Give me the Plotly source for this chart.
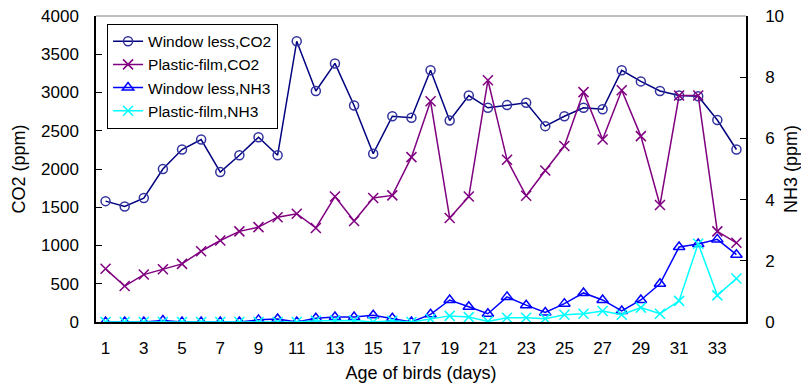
import plotly.graph_objects as go

days = list(range(1, 35))
x_tick_vals = list(range(1, 35, 2))
x_tick_text = [str(v) for v in x_tick_vals]
x_mark_vals = [3.5 + 3 * i for i in range(11)]

windowless_co2 = [1580, 1510, 1620, 2000, 2255, 2385, 1960, 2180, 2415, 2180,
                  3670, 3020, 3380, 2830, 2200, 2690, 2670, 3290, 2635, 2960,
                  2800, 2835, 2865, 2560, 2690, 2800, 2780, 3290, 3145, 3020,
                  2960, 2950, 2640, 2255]
plastic_co2 = [695, 470, 620, 690, 760, 925, 1065, 1185, 1240, 1370,
               1415, 1230, 1640, 1320, 1620, 1655, 2155, 2885, 1360, 1640,
               3160, 2120, 1650, 1980, 2300, 3005, 2385, 3030, 2430, 1530,
               2960, 2960, 1185, 1035]
windowless_nh3 = [0, 0, 0, 0.05, 0, 0, 0, 0, 0.07, 0.1,
                  0, 0.12, 0.16, 0.16, 0.22, 0.12, 0, 0.25, 0.72, 0.5,
                  0.27, 0.82, 0.55, 0.31, 0.6, 0.95, 0.72, 0.36, 0.72, 1.25,
                  2.45, 2.55, 2.7, 2.2]
plastic_nh3 = [0, 0, 0, 0, 0, 0, 0, 0, 0, 0,
               0, 0.04, 0.05, 0.05, 0, 0.04, 0, 0.1, 0.2, 0.16,
               0.02, 0.14, 0.14, 0.11, 0.24, 0.27, 0.36, 0.24, 0.47, 0.27,
               0.69, 2.56, 0.87, 1.42]

FONT = "Liberation Sans, Arial, sans-serif"
TICK = 17
TITLE = 18

fig = go.Figure()
fig.add_trace(go.Scatter(
    x=days, y=windowless_co2, name="Window less,CO2", mode="lines+markers",
    line=dict(color="#000080", width=1.5),
    marker=dict(symbol="circle-open", size=9, color="#3333a0", line=dict(width=1.5)),
    yaxis="y"))
fig.add_trace(go.Scatter(
    x=days, y=plastic_co2, name="Plastic-film,CO2", mode="lines+markers",
    line=dict(color="#800080", width=1.5),
    marker=dict(symbol="x-thin-open", size=10, color="#800080", line=dict(width=1.5, color="#800080")),
    yaxis="y"))
fig.add_trace(go.Scatter(
    x=days, y=windowless_nh3, name="Window less,NH3", mode="lines+markers",
    line=dict(color="#0000ff", width=1.5),
    marker=dict(symbol="triangle-up-open", size=10, color="#0000ff", line=dict(width=1.5)),
    yaxis="y2"))
fig.add_trace(go.Scatter(
    x=days, y=plastic_nh3, name="Plastic-film,NH3", mode="lines+markers",
    line=dict(color="#00ffff", width=1.5),
    marker=dict(symbol="x-thin-open", size=10, color="#00ffff", line=dict(width=1.5, color="#00ffff")),
    yaxis="y2"))

fig.update_layout(
    width=801, height=390,
    margin=dict(l=96, r=55, t=16, b=68, autoexpand=False),
    paper_bgcolor="white", plot_bgcolor="white",
    font=dict(family=FONT, size=TICK, color="black"),
    showlegend=True,
    legend=dict(x=0.017, y=0.975, xanchor="left", yanchor="top",
                bgcolor="white", bordercolor="black", borderwidth=1,
                font=dict(family=FONT, size=15.5, color="black"),
                tracegroupgap=0, itemwidth=30),
    xaxis=dict(range=[0.5, 34.5], tickmode="array", tickvals=x_tick_vals,
               ticktext=x_tick_text, ticks="", showgrid=False, zeroline=False,
               showline=True, linecolor="black", linewidth=1.5, automargin=False,
               tickfont=dict(size=TICK), ticklabelstandoff=10,
               title=dict(text="Age of birds (days)", font=dict(size=TITLE), standoff=9)),
    xaxis2=dict(range=[0.5, 34.5], overlaying="x", anchor="y", side="bottom",
                tickmode="array", tickvals=x_mark_vals, showticklabels=False,
                ticks="inside", ticklen=5, tickcolor="black", tickwidth=1,
                showgrid=False, zeroline=False, showline=False, automargin=False),
    yaxis=dict(range=[0, 4000], dtick=500, ticks="inside", ticklen=6,
               tickcolor="black", showgrid=False, zeroline=False,
               showline=True, linecolor="black", linewidth=1.5, automargin=False,
               tickfont=dict(size=TICK), ticklabelstandoff=12,
               title=dict(text="CO2 (ppm)", font=dict(size=TITLE), standoff=11)),
    yaxis2=dict(range=[0, 10], dtick=2, overlaying="y", side="right",
                ticks="inside", ticklen=6, tickcolor="black", showgrid=False,
                zeroline=False, showline=True, linecolor="black", linewidth=1.5,
                automargin=False,
                tickfont=dict(size=TICK), ticklabelstandoff=14,
                title=dict(text="NH3 (ppm)", font=dict(size=TITLE), standoff=8)),
    shapes=[dict(type="line", xref="paper", yref="paper", x0=0, x1=1, y0=1, y1=1,
                 line=dict(color="#808080", width=1))],
)

fig.write_html("out.html")
